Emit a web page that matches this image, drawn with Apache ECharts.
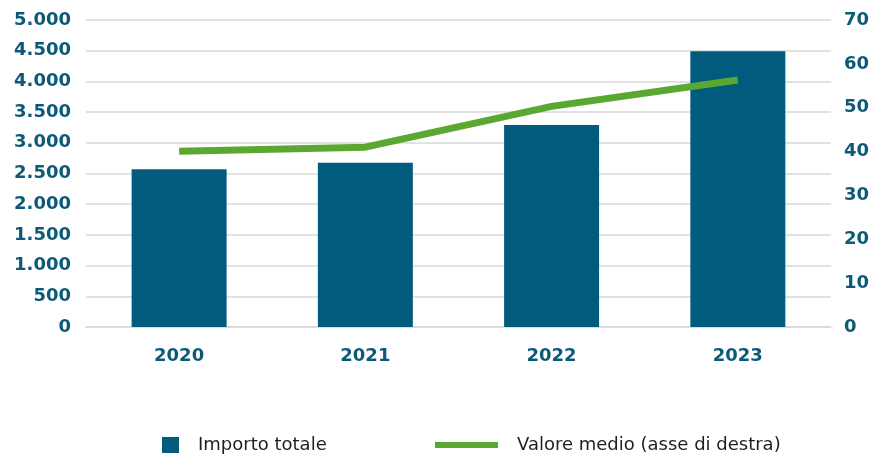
<!DOCTYPE html>
<html>
<head>
<meta charset="utf-8">
<script src="https://cdn.jsdelivr.net/npm/echarts@6/dist/echarts.min.js"></script>
<style>
  html, body { margin: 0; padding: 0; background: #fff; }
  #chart { width: 872px; height: 458px; }
</style>
</head>
<body>
<div id="chart"></div>
<script>
// dati
const years = ['2020', '2021', '2022', '2023']
const importoTotale = [2570, 2675, 3290, 4490]
const valoreMedio = [40.1, 41.0, 50.3, 56.3]

const BAR_NAME = 'Importo totale'
const LINE_NAME = 'Valore medio (asse di destra)'
const labelColor = '#0d5a78'
const labelFont = { color: labelColor, fontFamily: 'DejaVu Sans', fontWeight: 'bold', fontSize: 18 }
const legendFont = { color: '#1f1f1f', fontFamily: 'DejaVu Sans', fontSize: 18, lineHeight: 18 }
const gridLine = { lineStyle: { color: '#d9d9d9', width: 1.5 } }

const chart = echarts.init(document.getElementById('chart'), null, { renderer: 'canvas' })

chart.setOption({
  animation: false,
  grid: { left: 86, right: 40, top: 20, bottom: 131 },
  legend: [
    {
      left: 162,
      top: 436,
      padding: 0,
      itemWidth: 17,
      itemHeight: 16,
      data: [{ name: BAR_NAME, icon: 'rect' }],
      textStyle: { ...legendFont, padding: [0, 0, 0, 14] }
    },
    {
      left: 435,
      top: 436,
      padding: 0,
      itemWidth: 63,
      itemHeight: 6,
      data: [{ name: LINE_NAME, icon: 'rect' }],
      textStyle: { ...legendFont, padding: [0, 0, 0, 14] }
    }
  ],
  xAxis: {
    type: 'category',
    data: years,
    axisTick: { show: false },
    axisLine: { show: true, ...gridLine },
    axisLabel: { ...labelFont, margin: 20 }
  },
  yAxis: [
    {
      type: 'value',
      min: 0,
      max: 5000,
      interval: 500,
      splitLine: gridLine,
      axisLabel: {
        ...labelFont,
        margin: 15,
        formatter: (v) => v.toLocaleString('it-IT')
      }
    },
    {
      type: 'value',
      min: 0,
      max: 70,
      interval: 10,
      splitLine: { show: false },
      axisLabel: { ...labelFont, margin: 13 }
    }
  ],
  series: [
    {
      name: BAR_NAME,
      type: 'bar',
      data: importoTotale,
      barWidth: '51%',
      itemStyle: { color: '#005b7d' }
    },
    {
      name: LINE_NAME,
      type: 'line',
      yAxisIndex: 1,
      data: valoreMedio,
      symbol: 'none',
      z: 5,
      lineStyle: { color: '#5aa832', width: 7 },
      itemStyle: { color: '#5aa832' }
    }
  ]
})
</script>
</body>
</html>
